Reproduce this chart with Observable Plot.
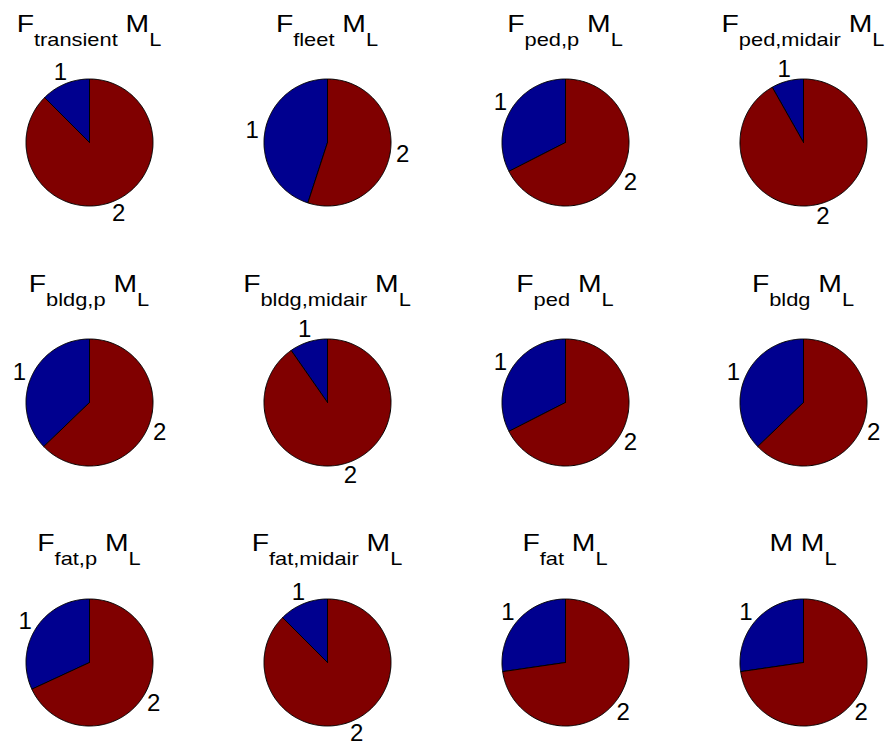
<!DOCTYPE html>
<html><head><meta charset="utf-8">
<script src="https://cdn.jsdelivr.net/npm/d3@7"></script>
<script src="https://cdn.jsdelivr.net/npm/@observablehq/plot@0.6"></script>
<style>
html,body{margin:0;padding:0;background:#fff;}
#fig{position:relative;width:886px;height:742px;overflow:hidden;background:#fff;font-family:"Liberation Sans",Arial,Helvetica,sans-serif;}
.ttl{position:absolute;width:300px;text-align:center;font-size:24px;line-height:24px;white-space:nowrap;color:#000;transform:scaleX(1.18);transform-origin:50% 50%;}
.ttl .sb{font-size:18.5px;vertical-align:-14.4px;}
.cell{position:absolute;width:200px;height:200px;}
.cell svg{overflow:visible;}
</style></head><body><div id="fig"></div>
<script>
// ---- data ----
const mainSymbols = ["F","F","F","F","F","F","F","F","F","F","F","M"];
const subscripts = ["transient","fleet","ped,p","ped,midair","bldg,p","bldg,midair","ped","bldg","fat,p","fat,midair","fat",""];
const share1 = [0.125, 0.45, 0.325, 0.082, 0.372, 0.097, 0.325, 0.372, 0.319, 0.125, 0.273, 0.273];
const share2 = [0.875, 0.55, 0.675, 0.918, 0.628, 0.903, 0.675, 0.628, 0.681, 0.875, 0.727, 0.727];
const sliceNames = ["1","2"];
const sliceColors = ["#00008f","#800000"];
const suffixSymbol = "M", suffixSub = "L";

// ---- layout ----
const nCols = 4;
const col0 = 88.5, colStep = 238.1;
const row0 = 142.3, rowStep = 259.7;
const radiusPx = 63.5;
const cellSize = 200;
const lim = (cellSize / 2) / radiusPx;
const fontFam = '"Liberation Sans", Arial, Helvetica, sans-serif';

const fig = document.getElementById("fig");

function wedge(a0, a1) {
  // angles in turns, counterclockwise from 12 o'clock
  const pts = [{x: 0, y: 0}];
  const n = Math.max(2, Math.ceil((a1 - a0) * 360));
  for (let i = 0; i <= n; i++) {
    const a = 2 * Math.PI * (a0 + (a1 - a0) * i / n);
    pts.push({x: -Math.sin(a), y: Math.cos(a)});
  }
  pts.push({x: 0, y: 0});
  return pts;
}

mainSymbols.forEach((sym, i) => {
  const r = Math.floor(i / nCols), c = i % nCols;
  const cx = col0 + c * colStep, cy = row0 + r * rowStep;
  const vals = [share1[i], share2[i]];
  const total = d3.sum(vals);
  let acc = 0;
  const slices = vals.map((v, k) => {
    const a0 = acc / total; acc += v; const a1 = acc / total;
    const mid = 2 * Math.PI * (a0 + a1) / 2;
    return {name: sliceNames[k], color: sliceColors[k], pts: wedge(a0, a1),
            lx: -1.2 * Math.sin(mid), ly: 1.2 * Math.cos(mid)};
  });

  const plot = Plot.plot({
    width: cellSize, height: cellSize, margin: 0,
    x: {domain: [-lim, lim], axis: null},
    y: {domain: [-lim, lim], axis: null},
    style: {background: "transparent", overflow: "visible", fontFamily: fontFam},
    marks: [
      ...slices.map(s => Plot.line(s.pts, {x: "x", y: "y", fill: s.color, stroke: "black", strokeWidth: 1, strokeLinejoin: "round"})),
      Plot.text(slices, {x: "lx", y: "ly", text: "name", fontSize: 24, fill: "black", textAnchor: "middle", fontFamily: fontFam})
    ]
  });
  const cell = document.createElement("div");
  cell.className = "cell";
  cell.style.left = (cx - cellSize / 2) + "px";
  cell.style.top = (cy - cellSize / 2) + "px";
  cell.appendChild(plot);
  fig.appendChild(cell);

  const t = document.createElement("div");
  t.className = "ttl";
  t.style.left = (cx - 150) + "px";
  t.style.top = (cy - 110 - 20.3) + "px";
  t.innerHTML = sym + (subscripts[i] ? `<span class="sb">${subscripts[i]}</span>` : "") +
    " " + suffixSymbol + `<span class="sb">${suffixSub}</span>`;
  fig.appendChild(t);
});
</script>
</body></html>
